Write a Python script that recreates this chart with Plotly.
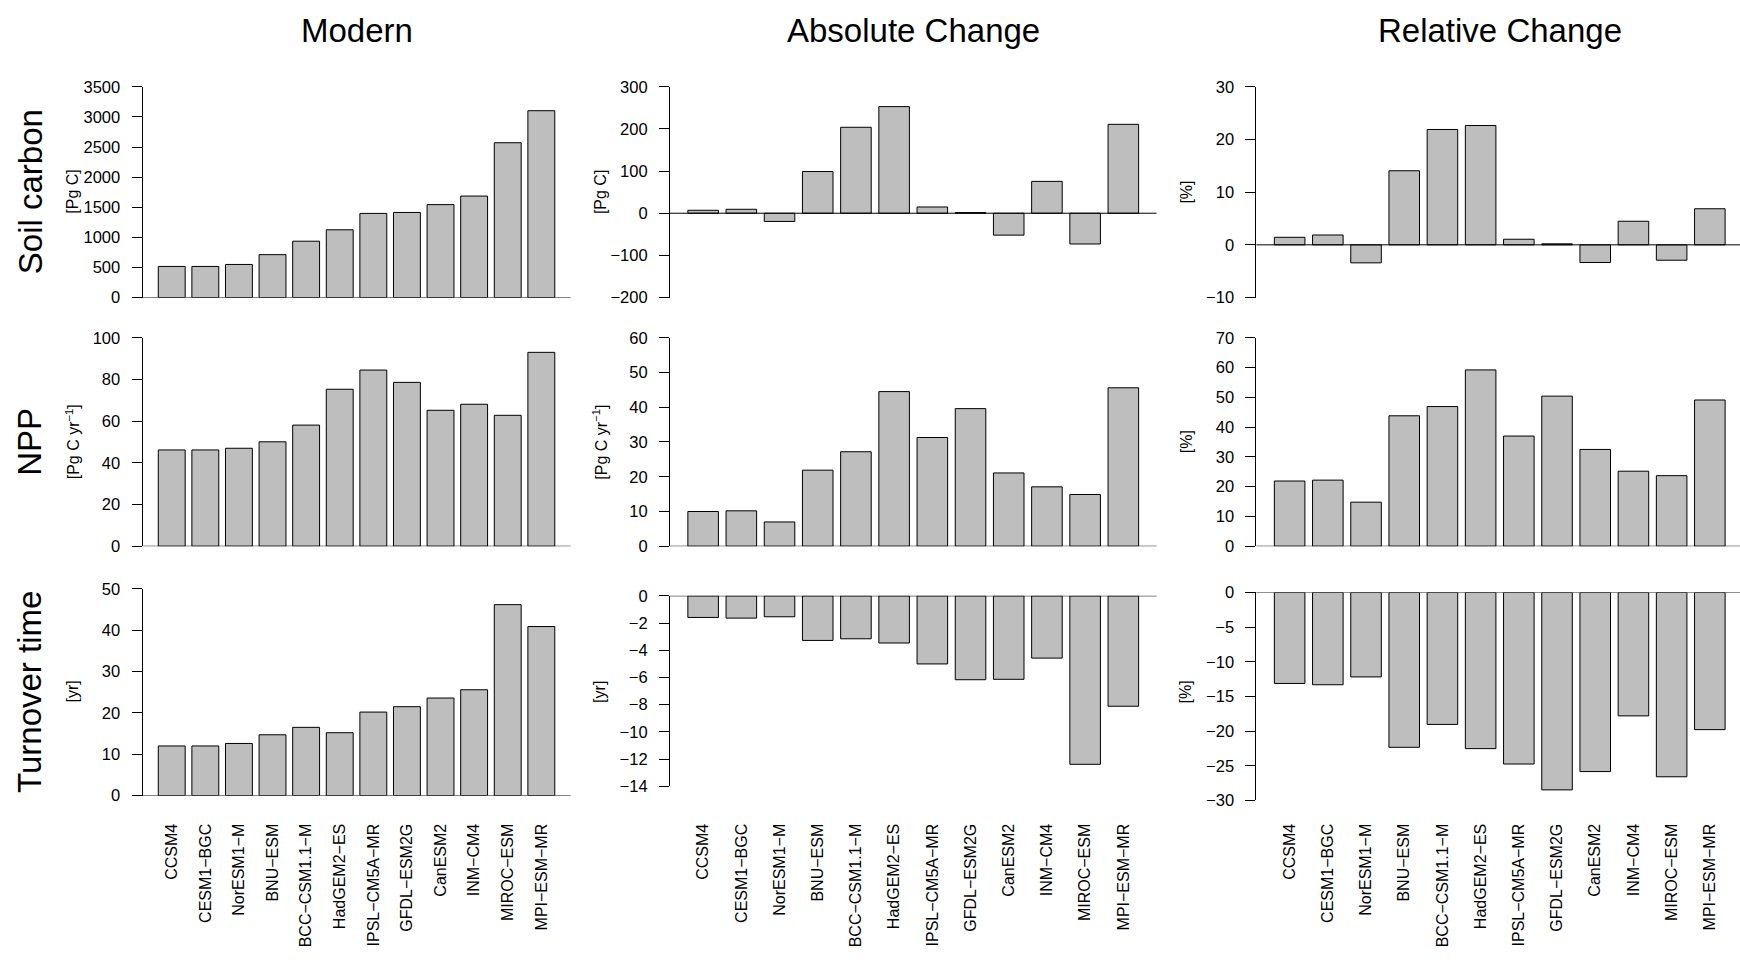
import plotly.graph_objects as go

# Model names (x categories) and the nine panel series
models = ["CCSM4", "CESM1\u2212BGC", "NorESM1\u2212M", "BNU\u2212ESM", "BCC\u2212CSM1.1\u2212M",
          "HadGEM2\u2212ES", "IPSL\u2212CM5A\u2212MR", "GFDL\u2212ESM2G", "CanESM2",
          "INM\u2212CM4", "MIROC\u2212ESM", "MPI\u2212ESM\u2212MR"]

soil_modern = [516, 516, 549, 712, 935, 1125, 1397, 1413, 1543, 1685, 2571, 3103]
soil_abs = [7, 9.4, -19.5, 99, 204, 253, 14.8, 1.5, -52, 75.6, -73, 211]
soil_rel = [1.43, 1.87, -3.42, 14.06, 21.9, 22.65, 1.06, 0.19, -3.36, 4.48, -2.92, 6.85]

npp_modern = [46.2, 46.2, 47.0, 50.1, 58.1, 75.3, 84.5, 78.6, 65.2, 68.1, 62.8, 93.0]
npp_abs = [10.0, 10.2, 7.0, 21.9, 27.2, 44.5, 31.3, 39.6, 21.1, 17.1, 14.9, 45.6]
npp_rel = [21.9, 22.2, 14.8, 43.8, 46.9, 59.2, 37.0, 50.4, 32.5, 25.2, 23.7, 49.1]

tau_modern = [12.0, 12.0, 12.6, 14.7, 16.5, 15.2, 20.2, 21.5, 23.6, 25.6, 46.2, 40.9]
tau_abs = [-1.59, -1.64, -1.54, -3.28, -3.16, -3.47, -5.01, -6.17, -6.14, -4.58, -12.39, -8.12]
tau_rel = [-13.13, -13.32, -12.19, -22.34, -19.04, -22.53, -24.75, -28.48, -25.84, -17.81, -26.59, -19.79]

col_titles = ["Modern", "Absolute Change", "Relative Change"]
row_titles = ["Soil carbon", "NPP", "Turnover time"]
units = [["[Pg C]", "[Pg C]", "[%]"],
         ["[Pg C yr<sup>\u22121</sup>]", "[Pg C yr<sup>\u22121</sup>]", "[%]"],
         ["[yr]", "[yr]", "[%]"]]

series = [[soil_modern, soil_abs, soil_rel],
          [npp_modern, npp_abs, npp_rel],
          [tau_modern, tau_abs, tau_rel]]

# y axis (low, high, step) for each panel
yticks = [[(0, 3500, 500), (-200, 300, 100), (-10, 30, 10)],
          [(0, 100, 20), (0, 60, 10), (0, 70, 10)],
          [(0, 50, 10), (-14, 0, 2), (-30, 0, 5)]]

# ---- page geometry (pixels) ----
W, H = 1740, 963
FONT = "Liberation Sans, Arial, Helvetica, sans-serif"
# plot-region left edge and bar pitch for each column
col_left = [142.5, 669.9, 1256.4]
col_pitch = [33.6, 38.2, 38.2]
x_lo = -0.87
x_hi_full = 11.87
# vertical span of each y axis (top px, bottom px)
row_span = [[(79.3, 294.0), (79.3, 294.0), (79.3, 294.0)],
            [(335.0, 547.5), (335.0, 547.5), (335.0, 547.5)],
            [(591.0, 801.5), (598.0, 792.0), (594.5, 806.5)]]
row_center = [186.7, 441.0, 696.0]
label_axis_px = 826.0

fig = go.Figure()
shapes = []
annotations = []

for r in range(3):
    for c in range(3):
        k = r * 3 + c + 1
        xs = "" if k == 1 else str(k)
        xname, yname = "x" + xs, "y" + xs
        fig.add_trace(go.Bar(
            x=models, y=series[r][c], xaxis=xname, yaxis=yname,
            marker=dict(color="#BEBEBE", line=dict(color="black", width=1)),
            showlegend=False, hoverinfo="x+y"))

        left = col_left[c]
        pitch = col_pitch[c]
        right = min(left + (x_hi_full - x_lo) * pitch, W)
        x_hi = x_lo + (right - left) / pitch
        xdom = [left / W, right / W]
        top, bot = row_span[r][c]
        ydom = [1 - bot / H, 1 - top / H]

        xaxis = dict(domain=xdom, range=[x_lo, x_hi], type="category",
                     showline=False, showgrid=False, zeroline=False, ticks="",
                     fixedrange=True)
        if r == 2:
            xaxis.update(anchor="free", position=1 - label_axis_px / H,
                         showticklabels=True, tickangle=-90,
                         tickfont=dict(family=FONT, size=16, color="black"))
        else:
            xaxis.update(anchor=yname, showticklabels=False)

        lo, hi, step = yticks[r][c]
        tv = list(range(lo, hi + 1, step))
        yaxis = dict(domain=ydom, anchor=xname, range=[lo, hi],
                     tickvals=tv, ticktext=[f"{v}".replace("-", "\u2212") for v in tv],
                     showline=True, linecolor="black", linewidth=1,
                     ticks="outside", ticklen=10, tickwidth=1, tickcolor="black",
                     ticklabelstandoff=8,
                     tickfont=dict(family=FONT, size=16.5, color="black"),
                     showgrid=False, zeroline=False, fixedrange=True)
        fig.layout["xaxis" + xs] = xaxis
        fig.layout["yaxis" + xs] = yaxis

        # zero reference line across the panel
        shapes.append(dict(type="line", xref=xname + " domain", yref=yname,
                           x0=0, x1=1, y0=0, y1=0,
                           line=dict(color="black", width=1), layer="above"))

        # unit label left of the axis
        annotations.append(dict(text=units[r][c], xref="paper", yref="paper",
                                x=(left - 70) / W, y=1 - row_center[r] / H,
                                xanchor="center", yanchor="middle", textangle=-90,
                                showarrow=False,
                                font=dict(family=FONT, size=16, color="black")))

# column headings
for c in range(3):
    left = col_left[c]
    right = left + (x_hi_full - x_lo) * col_pitch[c]
    annotations.append(dict(text=col_titles[c], xref="paper", yref="paper",
                            x=(left + right) / 2 / W, y=1 - 22 / H,
                            xanchor="center", yanchor="middle", showarrow=False,
                            font=dict(family=FONT, size=33, color="black")))

# row headings
for r in range(3):
    annotations.append(dict(text=row_titles[r], xref="paper", yref="paper",
                            x=30 / W, y=1 - row_center[r] / H,
                            xanchor="center", yanchor="middle", textangle=-90,
                            showarrow=False,
                            font=dict(family=FONT, size=33, color="black")))

fig.update_layout(width=W, height=H, margin=dict(l=0, r=0, t=0, b=0),
                  paper_bgcolor="white", plot_bgcolor="white",
                  bargap=0.2, shapes=shapes, annotations=annotations,
                  font=dict(family=FONT, color="black"))

fig.write_html("out.html")
